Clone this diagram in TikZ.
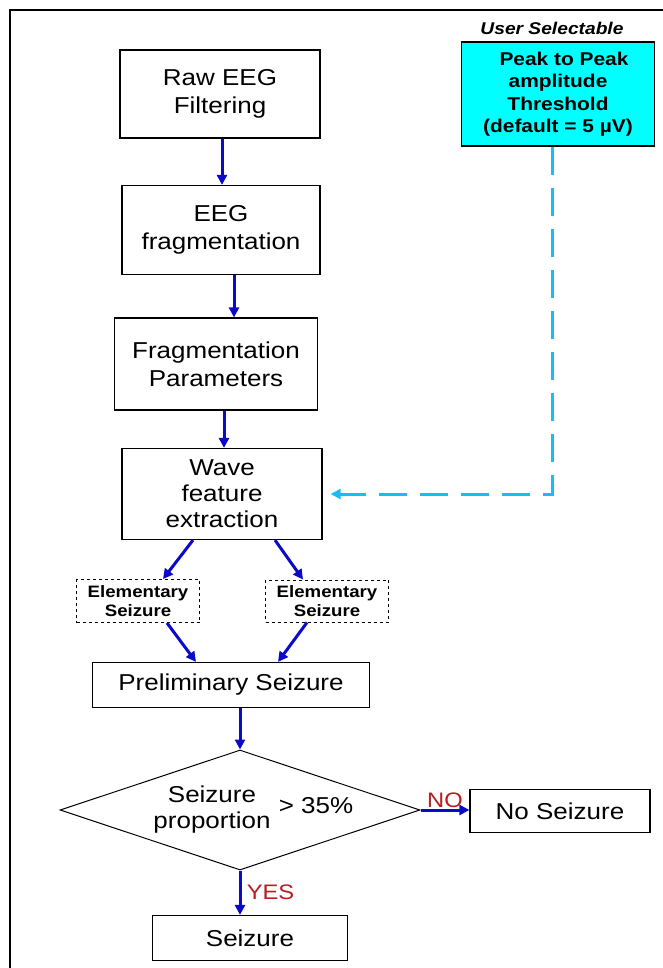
\documentclass[tikz,border=0pt]{standalone}
\usepackage{fontspec}
\setmainfont{Liberation Sans}[FakeStretch=1.13]
\usepackage{tikz}
\usetikzlibrary{shapes.geometric,arrows.meta}

\definecolor{flowblue}{RGB}{10,10,200}
\definecolor{dashblue}{RGB}{20,190,250}
\definecolor{threshcyan}{RGB}{0,255,255}
\definecolor{labelred}{RGB}{180,30,30}

\tikzset{
  stepbox/.style={draw, line width=1.2pt, align=center, inner sep=0pt,
    font=\fontsize{23}{28}\selectfont},
  elembox/.style={draw, dashed, line width=0.9pt, align=center, inner sep=0pt,
    font=\bfseries\fontsize{16.5}{19}\selectfont},
  flow/.style={-{Triangle[length=10pt,width=10pt]}, flowblue, line width=3pt},
  thrline/.style={-{Triangle[length=10pt,width=10pt]}, dashblue, line width=3pt,
    dash pattern=on 28pt off 13pt},
  answer/.style={text=labelred, font=\fontsize{21}{24}\selectfont},
}

\begin{document}
\begin{tikzpicture}[x=1pt,y=-1pt]
        \useasboundingbox (0,0) rectangle (663,968);

        % Frame
        \draw[line width=1.2pt] (10,968) -- (10,10) -- (663,10);

        % User selectable threshold
        \node[font=\bfseries\itshape\fontsize{17}{20}\selectfont] (usersel) at (552,28) {User Selectable};
        \node[draw, fill=threshcyan, line width=1.2pt, minimum width=193pt, minimum height=104pt,
              align=center, inner sep=0pt, font=\bfseries\fontsize{18.5}{22.5}\selectfont] (thresh) at (558,94)
              {\hspace{12pt}Peak to Peak\\amplitude\\Threshold\\(default = 5 µV)};

        % Main chain
        \node[stepbox, minimum width=200pt, minimum height=88pt] (raw) at (220,94) {Raw EEG\\Filtering};
        \node[stepbox, minimum width=198pt, minimum height=89pt] (frag) at (221,230) {EEG\\fragmentation};
        \node[stepbox, minimum width=203pt, minimum height=92pt] (param) at (216,364) {Fragmentation\\Parameters};
        \node[stepbox, minimum width=200pt, minimum height=91pt, font=\fontsize{23}{26}\selectfont] (wave) at (222,494) {Wave\\feature\\extraction};

        % Elementary seizures
        \node[elembox, minimum width=123pt, minimum height=43pt] (elemL) at (138,601) {Elementary\\Seizure};
        \node[elembox, minimum width=123pt, minimum height=42pt] (elemR) at (327,601) {Elementary\\Seizure};

        \node[stepbox, minimum width=277pt, minimum height=45pt] (prelim) at (231,685) {Preliminary Seizure};

        % Decision
        \node[draw, diamond, line width=1pt, minimum width=360pt, minimum height=120pt, inner sep=0pt] (dec) at (240,810) {};
        \node[align=center, font=\fontsize{23}{26}\selectfont] (decq) at (212,810) {Seizure\\proportion};
        \node[font=\fontsize{23}{26}\selectfont] (gt) at (316,806) {> 35\%};

        \node[stepbox, minimum width=180pt, minimum height=43pt] (noseiz) at (560,811) {No Seizure};
        \node[stepbox, minimum width=195pt, minimum height=45pt] (seiz) at (250,938) {Seizure};

        % Connections
        \draw[flow] ([xshift=2pt]raw.south) -- ([xshift=2pt]raw.south |- frag.north);
        \draw[flow] ([xshift=13pt]frag.south) -- ([xshift=13pt]frag.south |- param.north);
        \draw[flow] ([xshift=8pt]param.south) -- ([xshift=8pt]param.south |- wave.north);
        \draw[flow] ([xshift=-29pt]wave.south) -- ([xshift=25pt]elemL.north);
        \draw[flow] ([xshift=53pt]wave.south) -- ([xshift=-24pt]elemR.north);
        \draw[flow] ([xshift=29pt]elemL.south) -- ([xshift=-35pt]prelim.north);
        \draw[flow] ([xshift=-20pt]elemR.south) -- ([xshift=47pt]prelim.north);
        \draw[flow] ([xshift=9pt]prelim.south) -- (dec.north);
        \draw[flow] (dec.east) -- (dec.east -| noseiz.west) node[answer, midway, above=-3pt] (nolbl) {NO};
        \draw[flow] (dec.south) -- (dec.south |- seiz.north) node[answer, midway, right=2pt] (yeslbl) {YES};

        % Threshold feed
        \draw[thrline] ([xshift=-6pt]thresh.south) |- ([xshift=8pt]wave.east);
\end{tikzpicture}
\end{document}
